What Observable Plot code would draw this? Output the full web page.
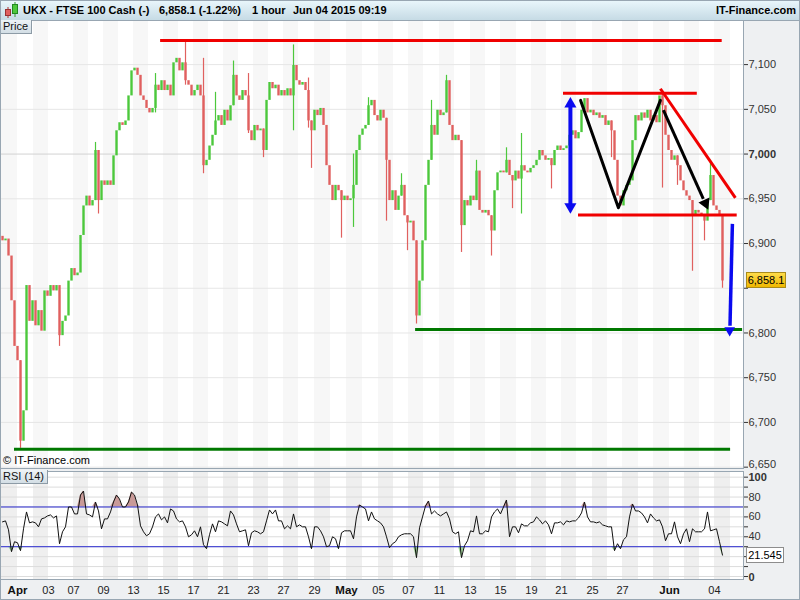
<!DOCTYPE html>
<html><head><meta charset="utf-8">
<script src="https://cdn.jsdelivr.net/npm/d3@7"></script>
<script src="https://cdn.jsdelivr.net/npm/@observablehq/plot@0.6"></script>
<style>
html,body{margin:0;padding:0;}
body{width:800px;height:600px;position:relative;overflow:hidden;background:#eef0f2;font-family:"Liberation Sans",Arial,sans-serif;}
#hdr{position:absolute;left:0;top:0;width:800px;height:21px;background:linear-gradient(#eaf7fc,#c6dbe5);border-bottom:1px solid #98a6b2;box-sizing:border-box;}
.ht{position:absolute;top:4px;font-weight:bold;font-size:11px;color:#000;white-space:nowrap;}
#price{position:absolute;left:0;top:20px;}
#rsi{position:absolute;left:0;top:468px;}
.tag{position:absolute;font-size:11px;color:#111;background:linear-gradient(#eef3f6,#d3dee5);border-right:1px solid #8d9ba6;border-bottom:1px solid #8d9ba6;padding:0 3px;line-height:13px;}
#copy{position:absolute;left:3px;top:454px;font-size:11px;color:#000;}
#last{position:absolute;left:746px;width:38px;height:14px;line-height:14px;font-size:11px;text-align:center;color:#000;background:linear-gradient(#ffdb4a,#f0b800);border:1px solid #a98b1a;}
#lastrsi{position:absolute;left:746px;width:36px;height:14px;line-height:14px;font-size:11px;text-align:center;color:#000;background:#fff;border:1px solid #8d8d8d;}
#outer{position:absolute;left:0;top:0;width:800px;height:600px;box-sizing:border-box;border:1px solid #98a6b2;pointer-events:none;}
</style></head>
<body>
<div id="hdr">
  <svg width="20" height="20" style="position:absolute;left:2px;top:0">
    <line x1="6" y1="7" x2="6" y2="18" stroke="#a33" stroke-width="1"/>
    <rect x="3.5" y="9.5" width="5" height="6" fill="#e06060" stroke="#933"/>
    <line x1="13" y1="2" x2="13" y2="17" stroke="#393" stroke-width="1"/>
    <rect x="10.5" y="4.5" width="5" height="9" fill="#4cc83c" stroke="#282"/>
  </svg>
  <div class="ht" style="left:23px">UKX - FTSE 100 Cash (-)</div>
  <div class="ht" style="left:159px">6,858.1 (-1.22%)</div>
  <div class="ht" style="left:252px">1 hour</div>
  <div class="ht" style="left:293px">Jun 04 2015 09:19</div>
  <div class="ht" style="right:4px">IT-Finance.com</div>
</div>
<div id="price"></div>
<div id="rsi"></div>
<div class="tag" style="left:0;top:20px;">Price</div>
<div class="tag" style="left:0;top:470px;">RSI (14)</div>
<div id="copy">© IT-Finance.com</div>
<div id="last">6,858.1</div>
<div id="lastrsi">21.545</div>
<div id="outer"></div>
<script>
// ---------- data (hourly bars, sampled, index = bar number) ----------
const firstOpen = 6908;
const closes = [
 6903,6905,6886,6836,6785,6769,6679,6713,6853,6813,
 6836,6808,6825,6802,6847,6841,6853,6847,6853,6797,
 6813,6819,6858,6872,6864,6867,6909,6942,6953,6942,
 6948,7004,6948,6970,6965,6970,6965,6998,7026,7035,
 7032,7037,7065,7093,7096,7088,7065,7060,7051,7046,
 7051,7077,7071,7082,7071,7077,7065,7102,7107,7093,
 7102,7082,7077,7065,7071,7077,7065,6987,6993,7009,
 7021,7037,7043,7032,7049,7037,7054,7088,7065,7060,
 7071,7065,7026,7015,7032,7026,7028,7004,7060,7080,
 7073,7077,7065,7071,7065,7073,7065,7099,7082,7077,
 7080,7071,7037,7026,7049,7043,7051,7032,6987,6965,
 6948,6965,6959,6948,6953,6948,6950,6965,7004,7021,
 7028,7032,7054,7060,7043,7037,7049,7040,6993,6948,
 6959,6937,6953,6965,6931,6923,6925,6903,6819,6858,
 6903,6965,6993,7032,7021,7049,7043,7046,7082,7032,
 7015,7021,7015,6920,6948,6942,6953,6948,6981,6937,
 6934,6937,6931,6914,6959,6979,6981,6979,6993,6976,
 6970,6981,6972,6987,6981,6979,6984,6987,6993,7004,
 6998,6993,6995,6987,7004,7009,7004,7006,7009,7021,
 7026,7017,7024,7049,7062,7046,7049,7043,7046,7040,
 7043,7032,7037,7026,6993,6953,6942,6959,6965,6970,
 7015,7043,7037,7046,7040,7049,7037,7043,7035,7065,
 7054,7021,7004,6993,6998,6987,6970,6959,6953,6948,
 6931,6937,6934,6931,6925,6948,6976,6942,6937,6931,
 6858.1
];
const wickBar  = [6,19,31,32,51,61,67,71,77,82,87,97,102,103,113,117,122,128,133,135,138,143,148,153,158,163,168,170,173,183,203,220,225,230,234,236,240];
const wickLow  = [6671,6785,6948,6933,7046,7077,6978,7021,7054,7023,6996,7026,7029,6984,6906,6918,7032,6925,6953,6892,6810,6993,7046,6890,6948,6886,6979,6939,6933,6961,6996,6962,6965,6869,6903,6948,6850];
const wickHigh = [6769,6847,7013,7004,7090,7127,7107,7069,7104,7090,7028,7122,7085,7037,6959,7000,7063,7040,6978,6931,6903,7060,7088,7015,6993,6931,7007,6976,7023,6993,7037,7071,6998,6948,6931,6993,6931];
const rsiValues = [
 55,56,47,25,35,34,26,48,65,54,
 55,54,50,58,59,61,62,59,61,33,
 45,50,70,70,63,63,82,86,63,62,
 60,75,66,48,58,58,65,75,82,78,
 70,70,75,85,82,72,51,45,41,43,
 50,60,63,57,60,54,68,66,58,55,
 56,50,40,42,46,40,50,32,28,42,
 53,45,56,55,53,51,66,62,53,45,
 46,47,31,44,46,45,43,45,56,67,
 63,67,56,56,48,51,48,63,50,52,
 50,50,40,28,50,50,46,40,30,31,
 40,38,28,44,46,46,46,38,60,72,
 70,68,56,65,58,56,54,50,40,29,
 33,35,40,42,43,43,43,40,19,49,
 60,71,76,63,66,63,61,63,65,58,
 45,43,45,19,31,36,46,45,61,43,
 43,46,45,60,65,68,63,70,77,40,
 50,50,44,53,51,51,54,55,60,57,
 53,56,52,43,54,54,55,52,56,55,
 56,56,59,64,75,60,55,55,54,55,
 52,51,50,50,26,33,28,37,40,60,
 73,66,66,64,60,54,63,59,56,57,
 50,36,43,43,55,40,33,43,48,35,
 48,45,45,45,48,65,46,47,48,35,
 21.545
];
// trading sessions (start position in bar units) and their axis labels
const sessionStart = [-0.67,5,10.33,15.33,23.67,28.67,33.67,38.67,43.67,48.67,53.67,58.67,63.67,68.67,73.67,78.67,83.67,88.67,93.67,98.67,104,109.33,114.67,120,125.33,130.33,135.33,140.33,145.67,150.67,156,161,166,171.33,176.33,181.33,186.33,191.33,196.67,201.67,206.67,212,217,222.33,227.33,232.33,237.33];
const sessionEnd = 242.67;
const sessionLabel = ["","Apr","","03","07","","09","","13","","15","","17","","21","","23","","27","","29","","May","","05","","07","","11","","13","","15","","19","","21","","25","","27","","","Jun","","","04"];
const monthNames = ["Apr","May","Jun"];
const priceTicks = [6650,6700,6750,6800,6850,6900,6950,7000,7050,7100];
const priceTickHidden = [6850];          // covered by the last-price tag
const rsiTicks = [0,10,20,30,40,50,60,70,80,90,100];
const rsiLabelTicks = [0,40,60,80,100];   // 20 is covered by the last-value tag
const rsiLevels = [30,70];
const lastPrice = 6858.1, lastRsi = 21.545;
// drawn annotations (bar units / price)
const hLinePrice = [7127,7068,6932,6804,6670];
const hLineFrom  = [52.7,187,192,137.7,4];
const hLineTo    = [239.9,231.6,244.9,246.7,242.7];
const hLineColor = ["#f00000","#f00000","#f00000","#007800","#007800"];
const diagLine = {x1:219.3, y1:7073, x2:244.3, y2:6951};
const zigzagBar = [192.7,205.3,219.3];
const zigzagPrice = [7060,6940,7060];
const blackArrow = {x1:220.3, y1:7049, x2:233.6, y2:6950, headX:234.3, headY:6945};
const blueRange = {x:189.3, top:7056, bottom:6941};
const blueDrop = {x1:243.3, y1:6922, x2:242.5, y2:6808, headX:242.4, headY:6803};

// ---------- build ----------
const GREEN = "#4cc83c", RED = "#e0605f";
const bars = closes.map((c,i)=>({i, open: i===0 ? firstOpen : closes[i-1], close: c}));
bars.forEach(b => b.color = b.close >= b.open ? GREEN : RED);
const wicks = wickBar.map((b,k)=>({i:b, lo:wickLow[k], hi:wickHigh[k], color:bars[b].color}));
const rsi = rsiValues.map((v,i)=>({i, v}));
const bands = [];
sessionStart.forEach((s,k)=>{ if(k%2===0) bands.push({a:s, b: k+1<sessionStart.length ? sessionStart[k+1] : sessionEnd}); });
const dayLabels = sessionStart.map((s,k)=>({x:s, t:sessionLabel[k]})).filter(d=>d.t && !monthNames.includes(d.t));
const monLabels = sessionStart.map((s,k)=>({x:s, t:sessionLabel[k]})).filter(d=>monthNames.includes(d.t));
const hLines = hLinePrice.map((p,k)=>({p, a:hLineFrom[k], b:hLineTo[k], c:hLineColor[k]}));

const XD = [-0.67, 247];
const font = {background:"none", fontFamily:"Liberation Sans, Arial, sans-serif", fontSize:"11px", color:"#333", overflow:"visible"};

const priceChart = Plot.plot({
  width:800, height:448, marginLeft:0, marginRight:57, marginTop:0, marginBottom:0,
  style: font,
  x:{domain:XD, axis:null},
  y:{domain:[6648.5,7149.3], axis:"right", ticks:priceTicks, tickFormat:d => priceTickHidden.includes(d) ? "" : d3.format(",")(d), tickSize:4, tickPadding:1, label:null},
  marks:[
    Plot.frame({fill:"white"}),
    Plot.rect(bands, {x1:"a", x2:"b", fill:"#f7f7f7"}),
    Plot.ruleY(priceTicks, {stroke: d => d===7000 ? "#d2d2d2" : "#e6e6e6"}),
    Plot.ruleX(wicks, {x:"i", y1:"lo", y2:"hi", stroke:"color", strokeWidth:1.2}),
    Plot.ruleX(bars, {x:"i", y1:"open", y2:"close", stroke:"color", strokeWidth:2.4}),
    Plot.ruleY(hLines, {y:"p", x1:"a", x2:"b", stroke:"c", strokeWidth:3}),
    Plot.link([diagLine], {x1:"x1", y1:"y1", x2:"x2", y2:"y2", stroke:"#f00000", strokeWidth:3}),
    Plot.line(zigzagBar.map((b,k)=>({b, p:zigzagPrice[k]})), {x:"b", y:"p", stroke:"#000", strokeWidth:3}),
    Plot.link([blackArrow], {x1:"x1", y1:"y1", x2:"x2", y2:"y2", stroke:"#000", strokeWidth:3}),
    Plot.dot([blackArrow], {x:"headX", y:"headY", symbol:"triangle", r:4.5, fill:"#000", rotate:156}),
    Plot.link([blueRange], {x1:"x", x2:"x", y1:"top", y2:"bottom", stroke:"#0a0af0", strokeWidth:4}),
    Plot.dot([{x:blueRange.x, y:blueRange.top, r:0},{x:blueRange.x, y:blueRange.bottom, r:180}], {x:"x", y:"y", symbol:"triangle", r:4.5, fill:"#0a0af0", rotate:"r"}),
    Plot.link([blueDrop], {x1:"x1", y1:"y1", x2:"x2", y2:"y2", stroke:"#0a0af0", strokeWidth:3.5}),
    Plot.dot([blueDrop], {x:"headX", y:"headY", symbol:"triangle", r:4, fill:"#0a0af0", rotate:180}),
    Plot.frame({stroke:"#98a6b2"})
  ]
});
document.getElementById("price").append(priceChart);
priceChart.querySelectorAll("text").forEach(t=>{
  if(t.textContent==="7,000") t.setAttribute("font-weight","bold");
  if(t.textContent==="6,650") t.setAttribute("dy","-0.25em");
});

const rsiChart = Plot.plot({
  width:800, height:132, marginLeft:0, marginRight:57, marginTop:3, marginBottom:21,
  style: font,
  x:{domain:XD, axis:null},
  y:{domain:[-3,105.7], axis:"right", ticks:rsiTicks, tickFormat:d => rsiLabelTicks.includes(d) ? String(d) : "", tickSize:4, tickPadding:1, label:null},
  marks:[
    Plot.frame({fill:"white"}),
    Plot.rect(bands, {x1:"a", x2:"b", fill:"#efefef"}),
    Plot.ruleY(rsiTicks, {stroke:"#dcdcdc"}),
    Plot.areaY(rsi, {x:"i", y1:70, y2:d=>Math.max(70,d.v), fill:"#c99a98"}),
    Plot.areaY(rsi, {x:"i", y1:30, y2:d=>Math.min(30,d.v), fill:"#9ed496"}),
    Plot.ruleY(rsiLevels, {stroke:"#2b2bd0", strokeWidth:1}),
    Plot.line(rsi, {x:"i", y:"v", stroke:"#111", strokeWidth:1}),
    Plot.frame({stroke:"#98a6b2"}),
    Plot.text(dayLabels, {x:"x", text:"t", frameAnchor:"bottom", dy:14, fontSize:11, fill:"#222"}),
    Plot.text(monLabels, {x:"x", text:"t", frameAnchor:"bottom", dy:14, fontSize:11.5, fontWeight:"bold", fill:"#111"})
  ]
});
document.getElementById("rsi").append(rsiChart);
rsiChart.querySelectorAll("text").forEach(t=>{
  if(t.textContent==="100") { t.setAttribute("font-weight","bold"); }
  if(t.textContent==="0") { t.setAttribute("font-weight","bold"); t.setAttribute("dy","0.1em"); }
});

const yP = priceChart.scale("y").apply(lastPrice) + 20;
const lp = document.getElementById("last"); lp.style.top = (yP - 8) + "px";
const yR = rsiChart.scale("y").apply(lastRsi) + 468;
const lr = document.getElementById("lastrsi"); lr.style.top = (yR - 8) + "px";
</script>
</body></html>
